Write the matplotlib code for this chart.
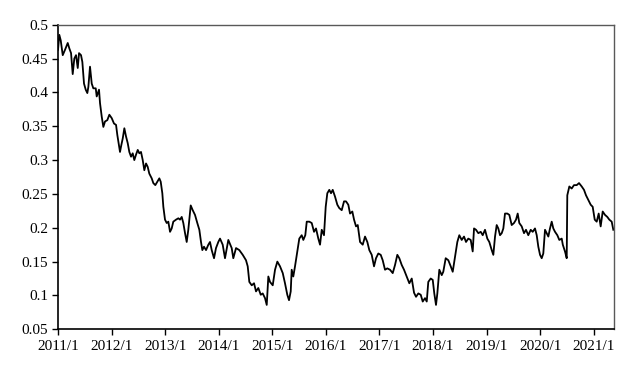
#!/usr/bin/env python3
import matplotlib
matplotlib.use("Agg")
import matplotlib.pyplot as plt
import numpy as np

# time in decimal years
years = [
    2011.000, 2011.024, 2011.050, 2011.088, 2011.131, 2011.181, 2011.211, 2011.243,
    2011.274, 2011.304, 2011.336, 2011.368, 2011.392, 2011.429, 2011.454, 2011.485,
    2011.517, 2011.547, 2011.566, 2011.597, 2011.629, 2011.659, 2011.704, 2011.722,
    2011.765, 2011.784, 2011.816, 2011.846, 2011.877, 2011.920, 2011.958, 2012.002,
    2012.045, 2012.083, 2012.107, 2012.157, 2012.176, 2012.208, 2012.238, 2012.269,
    2012.301, 2012.331, 2012.363, 2012.394, 2012.424, 2012.456, 2012.488, 2012.518,
    2012.549, 2012.581, 2012.611, 2012.643, 2012.674, 2012.704, 2012.749, 2012.779,
    2012.816, 2012.854, 2012.891, 2012.917, 2012.947, 2012.966, 2012.997, 2013.029,
    2013.059, 2013.091, 2013.122, 2013.152, 2013.203, 2013.246, 2013.277, 2013.309,
    2013.339, 2013.371, 2013.402, 2013.432, 2013.477, 2013.514, 2013.557, 2013.600,
    2013.638, 2013.669, 2013.694, 2013.725, 2013.763, 2013.806, 2013.837, 2013.869,
    2013.912, 2013.949, 2013.992, 2014.024, 2014.074, 2014.117, 2014.179, 2014.242,
    2014.272, 2014.323, 2014.384, 2014.448, 2014.509, 2014.541, 2014.571, 2014.616,
    2014.659, 2014.696, 2014.739, 2014.784, 2014.821, 2014.864, 2014.896, 2014.926,
    2014.957, 2015.008, 2015.051, 2015.094, 2015.144, 2015.195, 2015.237, 2015.280,
    2015.312, 2015.344, 2015.362, 2015.392, 2015.424, 2015.467, 2015.504, 2015.549,
    2015.579, 2015.616, 2015.643, 2015.691, 2015.736, 2015.779, 2015.816, 2015.859,
    2015.891, 2015.923, 2015.965, 2015.997, 2016.027, 2016.064, 2016.096, 2016.128,
    2016.171, 2016.214, 2016.251, 2016.296, 2016.339, 2016.376, 2016.419, 2016.451,
    2016.494, 2016.526, 2016.563, 2016.595, 2016.638, 2016.688, 2016.731, 2016.774,
    2016.811, 2016.856, 2016.899, 2016.936, 2016.979, 2017.024, 2017.061, 2017.104,
    2017.147, 2017.197, 2017.248, 2017.291, 2017.334, 2017.371, 2017.416, 2017.459,
    2017.509, 2017.558, 2017.603, 2017.646, 2017.683, 2017.726, 2017.771, 2017.808,
    2017.851, 2017.883, 2017.912, 2017.957, 2017.995, 2018.024, 2018.056, 2018.081,
    2018.118, 2018.163, 2018.192, 2018.237, 2018.286, 2018.331, 2018.368, 2018.411,
    2018.454, 2018.491, 2018.536, 2018.579, 2018.616, 2018.659, 2018.704, 2018.741,
    2018.766, 2018.803, 2018.846, 2018.891, 2018.928, 2018.971, 2019.014, 2019.051,
    2019.096, 2019.126, 2019.158, 2019.189, 2019.219, 2019.251, 2019.283, 2019.313,
    2019.344, 2019.387, 2019.425, 2019.469, 2019.512, 2019.550, 2019.581, 2019.611,
    2019.656, 2019.699, 2019.736, 2019.779, 2019.824, 2019.861, 2019.904, 2019.936,
    2019.966, 2019.998, 2020.029, 2020.059, 2020.091, 2020.123, 2020.153, 2020.184,
    2020.216, 2020.246, 2020.278, 2020.321, 2020.358, 2020.403, 2020.423, 2020.464,
    2020.496, 2020.507, 2020.545, 2020.589, 2020.632, 2020.683, 2020.726, 2020.776,
    2020.819, 2020.856, 2020.899, 2020.944, 2020.981, 2021.019, 2021.056, 2021.093,
    2021.130, 2021.168, 2021.211, 2021.254, 2021.291, 2021.336, 2021.366,
]
values = [
    0.463, 0.485, 0.477, 0.455, 0.463, 0.473, 0.465, 0.458,
    0.427, 0.450, 0.455, 0.436, 0.458, 0.455, 0.445, 0.413,
    0.404, 0.399, 0.408, 0.438, 0.413, 0.406, 0.406, 0.394,
    0.404, 0.384, 0.364, 0.349, 0.357, 0.359, 0.367, 0.362,
    0.354, 0.352, 0.337, 0.312, 0.320, 0.332, 0.347, 0.335,
    0.325, 0.312, 0.305, 0.310, 0.300, 0.308, 0.315, 0.310,
    0.312, 0.300, 0.285, 0.295, 0.290, 0.280, 0.273, 0.266,
    0.263, 0.268, 0.273, 0.268, 0.251, 0.231, 0.212, 0.207,
    0.209, 0.194, 0.199, 0.209, 0.212, 0.214, 0.212, 0.216,
    0.207, 0.192, 0.179, 0.197, 0.233, 0.226, 0.219, 0.207,
    0.197, 0.179, 0.167, 0.172, 0.167, 0.175, 0.179, 0.167,
    0.155, 0.170, 0.179, 0.184, 0.175, 0.155, 0.182, 0.170,
    0.155, 0.170, 0.167, 0.160, 0.152, 0.143, 0.120, 0.115,
    0.118, 0.106, 0.111, 0.101, 0.103, 0.096, 0.086, 0.128,
    0.120, 0.115, 0.138, 0.150, 0.143, 0.133, 0.118, 0.101,
    0.093, 0.106, 0.138, 0.128, 0.143, 0.165, 0.184, 0.189,
    0.182, 0.189, 0.209, 0.209, 0.207, 0.194, 0.199, 0.184,
    0.175, 0.197, 0.189, 0.231, 0.251, 0.256, 0.251, 0.256,
    0.246, 0.234, 0.229, 0.226, 0.239, 0.239, 0.234, 0.221,
    0.224, 0.212, 0.202, 0.204, 0.179, 0.175, 0.187, 0.179,
    0.167, 0.160, 0.143, 0.155, 0.162, 0.160, 0.152, 0.138,
    0.140, 0.138, 0.133, 0.145, 0.160, 0.155, 0.145, 0.138,
    0.128, 0.118, 0.125, 0.104, 0.098, 0.103, 0.101, 0.091,
    0.096, 0.091, 0.120, 0.125, 0.123, 0.103, 0.086, 0.103,
    0.138, 0.130, 0.135, 0.155, 0.152, 0.143, 0.135, 0.157,
    0.179, 0.189, 0.182, 0.187, 0.179, 0.184, 0.182, 0.165,
    0.199, 0.197, 0.192, 0.194, 0.189, 0.197, 0.184, 0.179,
    0.167, 0.160, 0.187, 0.204, 0.199, 0.189, 0.192, 0.199,
    0.221, 0.221, 0.219, 0.204, 0.207, 0.212, 0.221, 0.207,
    0.202, 0.192, 0.197, 0.189, 0.197, 0.194, 0.199, 0.189,
    0.172, 0.160, 0.155, 0.162, 0.197, 0.192, 0.187, 0.199,
    0.209, 0.199, 0.194, 0.189, 0.182, 0.184, 0.175, 0.165,
    0.155, 0.248, 0.261, 0.258, 0.263, 0.263, 0.266, 0.261,
    0.256, 0.248, 0.241, 0.234, 0.231, 0.212, 0.209, 0.221,
    0.202, 0.224, 0.219, 0.216, 0.212, 0.209, 0.197,
]

tick_years = list(range(2011, 2022))
tick_labels = [f"{y}/1" for y in tick_years]
y_ticks = [0.05, 0.1, 0.15, 0.2, 0.25, 0.3, 0.35, 0.4, 0.45, 0.5]


def main():
    plt.rcParams["font.family"] = ["Liberation Serif", "DejaVu Serif"]
    fig = plt.figure(figsize=(6.37, 3.66), dpi=100)
    ax = fig.add_axes([0.0911, 0.1003, 0.8723, 0.8322])

    ax.plot(years, values, color="black", linewidth=1.3)

    ax.set_xlim(2011, 2021.373)
    ax.set_ylim(0.05, 0.5)
    ax.set_xticks(tick_years)
    ax.set_xticklabels(tick_labels)
    ax.set_yticks(y_ticks)
    ax.set_yticklabels([f"{v:g}" for v in y_ticks])

    ax.tick_params(axis="both", direction="out", length=4, width=1,
                   labelsize=11, colors="black")
    ax.tick_params(axis="x", pad=4)
    ax.tick_params(axis="y", pad=3)

    for side in ("left", "bottom"):
        ax.spines[side].set_color("black")
        ax.spines[side].set_linewidth(1.2)
    for side in ("top", "right"):
        ax.spines[side].set_color("#595959")
        ax.spines[side].set_linewidth(1.0)

    fig.savefig("out.png", dpi=100)


if __name__ == "__main__":
    main()
